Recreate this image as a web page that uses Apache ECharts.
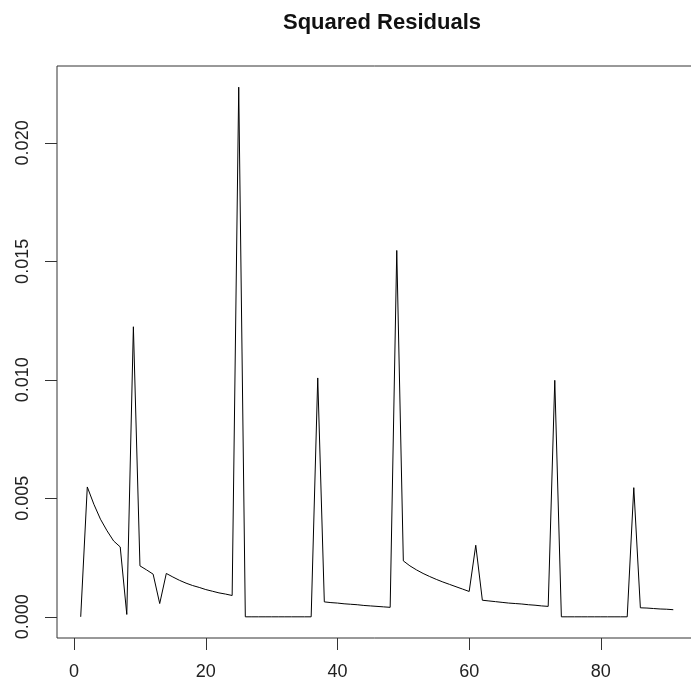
<!DOCTYPE html>
<html>
<head>
<meta charset="utf-8">
<script src="https://cdn.jsdelivr.net/npm/echarts@6/dist/echarts.min.js"></script>
<style>
  html, body { margin: 0; padding: 0; background: #ffffff; }
  #chart { width: 691px; height: 686px; }
</style>
</head>
<body>
<div id="chart"></div>
<script>
// ---- data ----
var chartTitle = 'Squared Residuals';
var residuals = [
  0, 0.00548, 0.00475, 0.00412, 0.00363, 0.0032, 0.00295, 0.0001, 0.01224, 0.00215,
  0.00198, 0.0018, 0.00056, 0.00183, 0.00168, 0.00154, 0.00142, 0.00132, 0.00124, 0.00115,
  0.00108, 0.00101, 0.00096, 0.0009, 0.02235, 0, 0, 0, 0, 0,
  0, 0, 0, 0, 0, 0, 0.01008, 0.00063, 0.0006, 0.00058,
  0.00055, 0.00053, 0.00051, 0.00048, 0.00046, 0.00044, 0.00042, 0.0004, 0.01546, 0.00236,
  0.00215, 0.00198, 0.00183, 0.0017, 0.00158, 0.00147, 0.00137, 0.00127, 0.00117, 0.00107,
  0.00302, 0.0007, 0.00067, 0.00064, 0.00061, 0.00058, 0.00056, 0.00054, 0.00051, 0.00049,
  0.00046, 0.00044, 0.00998, 0, 0, 0, 0, 0, 0, 0,
  0, 0, 0, 0, 0.00545, 0.00038, 0.00037, 0.00035, 0.00033, 0.00032,
  0.0003
];
var xTicks = [0, 20, 40, 60, 80];
var yTicks = [0, 0.005, 0.010, 0.015, 0.020];
var yTickLabels = ['0.000', '0.005', '0.010', '0.015', '0.020'];

// ---- build ----
var points = residuals.map(function (v, i) { return [i + 1, v]; });
var n = residuals.length;
var xMin = 1 - 0.04 * (n - 1), xMax = n + 0.04 * (n - 1);
var yMaxData = Math.max.apply(null, residuals);
var yMinData = Math.min.apply(null, residuals);
var yR = yMaxData - yMinData;
var yMin = yMinData - 0.04 * yR, yMax = yMaxData + 0.04 * yR;

var FONT = "'Liberation Sans', Arial, Helvetica, sans-serif";
var chart = echarts.init(document.getElementById('chart'), null, { renderer: 'canvas' });
chart.setOption({
  animation: false,
  backgroundColor: '#ffffff',
  title: {
    text: chartTitle,
    left: 377,
    textAlign: 'center',
    top: 7,
    textStyle: { fontFamily: FONT, fontSize: 22, fontWeight: 'bold', color: '#111' }
  },
  grid: {
    left: 57, top: 66, width: 640, bottom: 48,
    show: true, borderColor: '#333', borderWidth: 1,
    backgroundColor: 'transparent',
    containLabel: false,
    outerBoundsMode: 'none'
  },
  xAxis: {
    type: 'value',
    min: xMin, max: xMax,
    axisLine: { show: false, onZero: false },
    splitLine: { show: false },
    axisTick: { show: true, length: 12, inside: false, customValues: xTicks, lineStyle: { color: '#333', width: 1 } },
    axisLabel: {
      show: true, customValues: xTicks, margin: 25,
      fontFamily: FONT, fontSize: 18, color: '#222',
      showMinLabel: true, showMaxLabel: true
    }
  },
  yAxis: {
    type: 'value',
    min: yMin, max: yMax,
    axisLine: { show: false, onZero: false },
    splitLine: { show: false },
    axisTick: { show: true, length: 12, inside: false, customValues: yTicks, lineStyle: { color: '#333', width: 1 } },
    axisLabel: {
      show: true, customValues: yTicks, margin: 25, rotate: 90,
      fontFamily: FONT, fontSize: 18, color: '#222',
      formatter: function (v) {
        var idx = yTicks.indexOf(v);
        return idx >= 0 ? yTickLabels[idx] : v.toFixed(3);
      }
    }
  },
  series: [{
    type: 'line',
    data: points,
    showSymbol: false,
    symbol: 'none',
    lineStyle: { color: '#000', width: 1 },
    clip: true
  }]
});
</script>
</body>
</html>
